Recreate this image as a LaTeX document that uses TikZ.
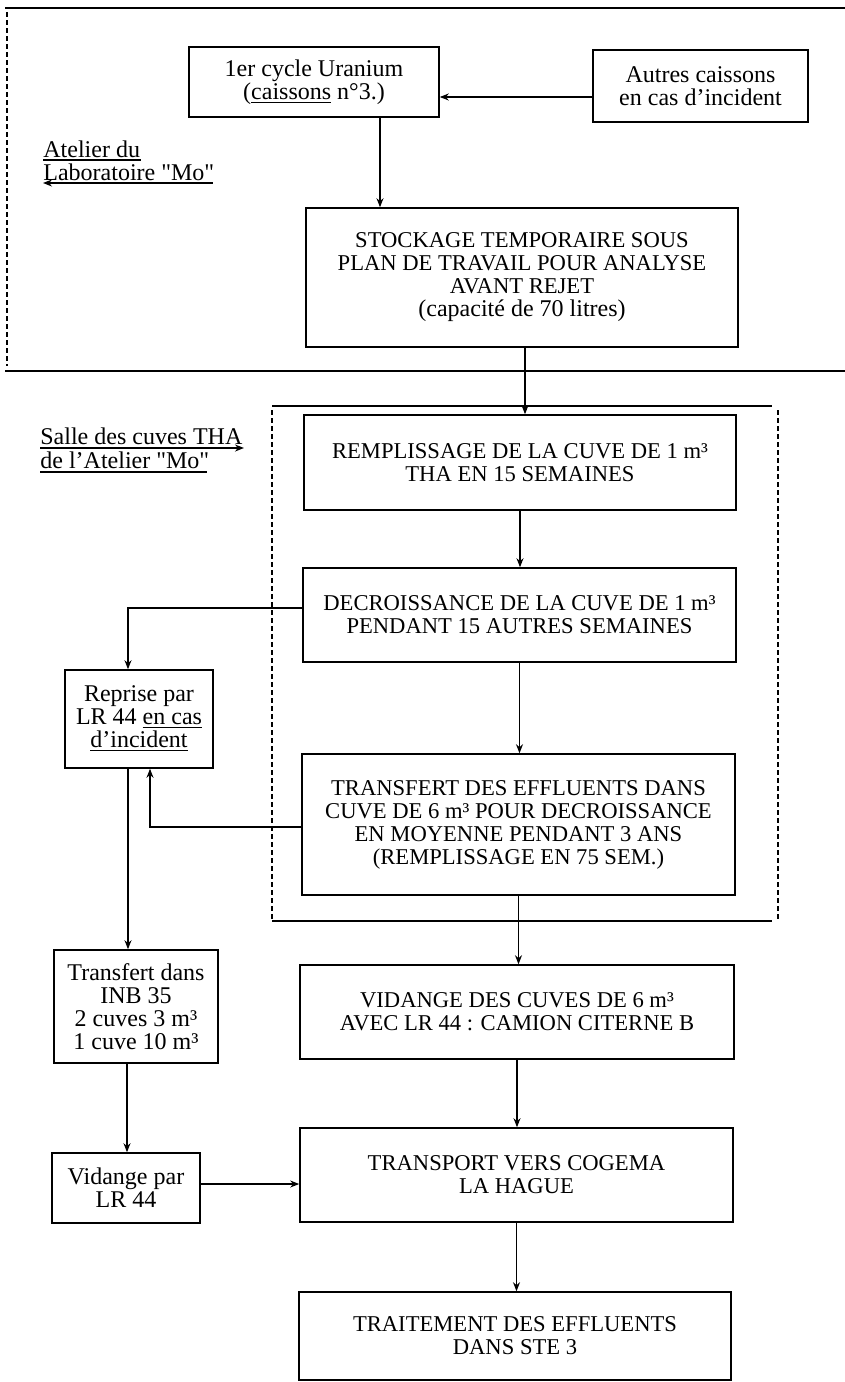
\documentclass[tikz,border=0pt]{standalone}
\usepackage{fontspec}
\setmainfont{Liberation Serif}
\newfontfamily\sq{Liberation Serif}[Ligatures=TeXOff]
\newcommand{\dq}{{\sq"}}
\usetikzlibrary{arrows.meta,calc}
\begin{document}
\begin{tikzpicture}[x=0.5pt,y=-0.5pt,
  box/.style={draw,line width=0.8pt,align=center,inner sep=0pt,font=\fontsize{11.3}{11.5}\selectfont},
  lbox/.style={box,font=\fontsize{12}{11.5}\selectfont},
  arr/.style={line width=0.6pt,-{Stealth[length=4.5pt,width=3.5pt]}},
  larr/.style={line width=0.7pt,{Stealth[length=4.5pt,width=3.5pt]}-},
  rarr/.style={line width=0.7pt,-{Stealth[length=4.5pt,width=3.5pt]}},
  lab/.style={inner sep=0pt,anchor=base west,font=\fontsize{12}{11.5}\selectfont},
  ln/.style={line width=0.7pt},
  frame/.style={line width=0.9pt},
  dsh/.style={line width=0.8pt,dash pattern=on 2.5pt off 1.5pt}]
\useasboundingbox (0,0) rectangle (845,1382);

% region frames
\coordinate (t1) at (5,8);
\coordinate (t2) at (845,8);
\draw[frame] (t1) -- (t2);
\coordinate (d1) at (7,12);
\coordinate (d2) at (7,366);
\draw[dsh] (d1) -- (d2);
\coordinate (m1) at (5,371);
\coordinate (m2) at (845,371);
\draw[frame] (m1) -- (m2);
\coordinate (q1) at (272,406);
\coordinate (q2) at (778,406);
\coordinate (q3) at (778,921);
\coordinate (q4) at (272,921);
\draw[frame] (q1) -- ([xshift=-3pt]q2);
\draw[frame] (q4) -- ([xshift=-3pt]q3);
\draw[dsh] ([yshift=-2pt]q1) -- ([yshift=1pt]q4);
\draw[dsh] ([yshift=-2pt]q2) -- ([yshift=1pt]q3);

% boxes
\node[lbox,minimum width=125pt,minimum height=35pt] (b1) at (314,82) {1er cycle Uranium\\(\underline{caissons} n°3.)};
\node[lbox,minimum width=107.5pt,minimum height=36pt] (aut) at (700.5,86) {Autres caissons\\en cas d'incident};
\node[box,minimum width=216pt,minimum height=69.5pt] (stock) at (522,277.5) {STOCKAGE TEMPORAIRE SOUS\\PLAN DE TRAVAIL POUR ANALYSE\\AVANT REJET\\{\fontsize{12}{11.5}\selectfont(capacité de 70 litres)}};
\node[box,minimum width=216pt,minimum height=47.5pt] (rempl) at (520,462.5) {REMPLISSAGE DE LA CUVE DE 1 m³\\THA EN 15 SEMAINES};
\node[box,minimum width=216.5pt,minimum height=47pt] (decr) at (519.5,615) {DECROISSANCE DE LA CUVE DE 1 m³\\PENDANT 15 AUTRES SEMAINES};
\node[box,minimum width=216.5pt,minimum height=70.5pt] (transf) at (518.5,824.5) {TRANSFERT DES EFFLUENTS DANS\\CUVE DE 6 m³ POUR DECROISSANCE\\EN MOYENNE PENDANT 3 ANS\\(REMPLISSAGE EN 75 SEM.)};
\node[box,minimum width=217pt,minimum height=47pt] (vid) at (517,1012) {VIDANGE DES CUVES DE 6 m³\\AVEC LR 44 : CAMION CITERNE B};
\node[box,minimum width=216.5pt,minimum height=47pt] (transp) at (516.5,1175) {TRANSPORT VERS COGEMA\\LA HAGUE};
\node[box,minimum width=216pt,minimum height=44pt] (trait) at (515,1336) {TRAITEMENT DES EFFLUENTS\\DANS STE 3};
\node[lbox,minimum width=74pt,minimum height=49pt] (rep) at (139,719) {Reprise par\\LR 44 \underline{en cas}\\\underline{d'incident}};
\node[lbox,minimum width=82pt,minimum height=56.5pt] (tdans) at (136,1006.5) {Transfert dans\\INB 35\\2 cuves 3 m³\\1 cuve 10 m³};
\node[lbox,minimum width=74pt,minimum height=35pt] (vpar) at (126,1188) {Vidange par\\LR 44};

% labels
\node[lab] (l1) at (43,157) {Atelier du};
\coordinate (u1a) at (43,160);
\coordinate (u1b) at (141,160);
\draw[ln] (u1a) -- (u1b);
\node[lab] (l2) at (43,180) {Laboratoire \dq Mo\dq};
\coordinate (u2a) at (43,183);
\coordinate (u2b) at (213,183);
\draw[larr] (u2a) -- (u2b);
\node[lab] (l3) at (40,444) {Salle des cuves THA};
\coordinate (u3a) at (40,448);
\coordinate (u3b) at (244,448);
\draw[rarr] (u3a) -- (u3b);
\node[lab] (l4) at (40,468) {de l'Atelier \dq Mo\dq};
\coordinate (u4a) at (40,472);
\coordinate (u4b) at (207,472);
\draw[ln] (u4a) -- (u4b);

% connectors
\coordinate (a1) at (380,0);
\draw[arr] (b1.south -| a1) -- (stock.north -| a1);
\coordinate (a2) at (0,97);
\draw[arr] (aut.west |- a2) -- (b1.east |- a2);
\coordinate (a3) at (525,0);
\draw[arr] (stock.south -| a3) -- (rempl.north -| a3);
\draw[arr] (rempl.south) -- (rempl.south |- decr.north);
\draw[arr] (decr.south) -- (decr.south |- transf.north);
\draw[arr] (transf.south) -- (transf.south |- vid.north);
\draw[arr] (vid.south) -- (vid.south |- transp.north);
\draw[arr] (transp.south) -- (transp.south |- trait.north);
\coordinate (a4) at (128,608);
\draw[arr] (decr.west |- a4) -| ([xshift=-5.5pt]rep.north);
\coordinate (a5) at (150,827);
\draw[arr] (transf.west |- a5) -| ([xshift=5.5pt]rep.south);
\coordinate (a6) at (128,0);
\draw[arr] (rep.south -| a6) -- (tdans.north -| a6);
\coordinate (a7) at (127,0);
\draw[arr] (tdans.south -| a7) -- (vpar.north -| a7);
\coordinate (a8) at (0,1184);
\draw[arr] (vpar.east |- a8) -- (transp.west |- a8);
\end{tikzpicture}
\end{document}
